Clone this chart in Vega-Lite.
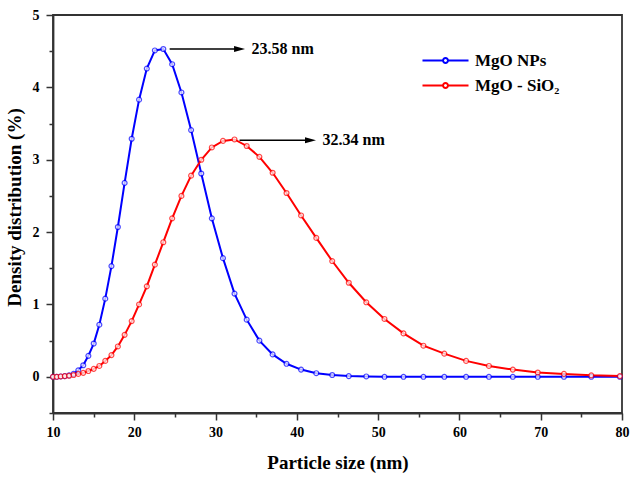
{
  "$schema": "https://vega.github.io/schema/vega-lite/v6.json",
  "width": 569,
  "height": 398,
  "autosize": {"type": "none"},
  "padding": {"left": 53, "top": 15, "right": 10, "bottom": 65},
  "background": "white",
  "config": {
    "view": {"stroke": "#333333", "strokeWidth": 1.8},
    "font": "Liberation Serif",
    "axis": {
      "grid": false,
      "domainColor": "#333333",
      "domainWidth": 1.8,
      "tickColor": "#333333",
      "tickWidth": 1.5,
      "labelFont": "Liberation Serif",
      "labelFontWeight": "bold",
      "labelFontSize": 14,
      "labelColor": "black",
      "labelOverlap": false,
      "labelFlush": false,
      "titleFont": "Liberation Serif",
      "titleFontWeight": "bold",
      "titleFontSize": 19,
      "titleColor": "black"
    }
  },
  "resolve": {"axis": {"x": "independent", "y": "independent"}},
  "datasets": {
    "dist": [
      {"size": 10.00, "series": "MgO NPs", "value": 0.00},
      {"size": 10.46, "series": "MgO NPs", "value": 0.00},
      {"size": 10.95, "series": "MgO NPs", "value": 0.005},
      {"size": 11.45, "series": "MgO NPs", "value": 0.01},
      {"size": 11.98, "series": "MgO NPs", "value": 0.02},
      {"size": 12.53, "series": "MgO NPs", "value": 0.04},
      {"size": 13.11, "series": "MgO NPs", "value": 0.09},
      {"size": 13.72, "series": "MgO NPs", "value": 0.16},
      {"size": 14.35, "series": "MgO NPs", "value": 0.29},
      {"size": 15.01, "series": "MgO NPs", "value": 0.46},
      {"size": 15.70, "series": "MgO NPs", "value": 0.72},
      {"size": 16.43, "series": "MgO NPs", "value": 1.08},
      {"size": 17.19, "series": "MgO NPs", "value": 1.53},
      {"size": 17.98, "series": "MgO NPs", "value": 2.07},
      {"size": 18.81, "series": "MgO NPs", "value": 2.68},
      {"size": 19.68, "series": "MgO NPs", "value": 3.29},
      {"size": 20.59, "series": "MgO NPs", "value": 3.83},
      {"size": 21.54, "series": "MgO NPs", "value": 4.26},
      {"size": 22.53, "series": "MgO NPs", "value": 4.51},
      {"size": 23.57, "series": "MgO NPs", "value": 4.53},
      {"size": 24.66, "series": "MgO NPs", "value": 4.32},
      {"size": 25.80, "series": "MgO NPs", "value": 3.93},
      {"size": 26.99, "series": "MgO NPs", "value": 3.41},
      {"size": 28.24, "series": "MgO NPs", "value": 2.81},
      {"size": 29.54, "series": "MgO NPs", "value": 2.19},
      {"size": 30.91, "series": "MgO NPs", "value": 1.64},
      {"size": 32.33, "series": "MgO NPs", "value": 1.15},
      {"size": 33.83, "series": "MgO NPs", "value": 0.79},
      {"size": 35.39, "series": "MgO NPs", "value": 0.50},
      {"size": 37.02, "series": "MgO NPs", "value": 0.31},
      {"size": 38.73, "series": "MgO NPs", "value": 0.18},
      {"size": 40.52, "series": "MgO NPs", "value": 0.10},
      {"size": 42.39, "series": "MgO NPs", "value": 0.05},
      {"size": 44.35, "series": "MgO NPs", "value": 0.025},
      {"size": 46.39, "series": "MgO NPs", "value": 0.01},
      {"size": 48.54, "series": "MgO NPs", "value": 0.005},
      {"size": 50.78, "series": "MgO NPs", "value": 0.00},
      {"size": 53.12, "series": "MgO NPs", "value": 0.00},
      {"size": 55.57, "series": "MgO NPs", "value": 0.00},
      {"size": 58.14, "series": "MgO NPs", "value": 0.00},
      {"size": 60.82, "series": "MgO NPs", "value": 0.00},
      {"size": 63.63, "series": "MgO NPs", "value": 0.00},
      {"size": 66.57, "series": "MgO NPs", "value": 0.00},
      {"size": 69.64, "series": "MgO NPs", "value": 0.00},
      {"size": 72.86, "series": "MgO NPs", "value": 0.00},
      {"size": 76.22, "series": "MgO NPs", "value": 0.00},
      {"size": 79.74, "series": "MgO NPs", "value": 0.00},
      {"size": 10.00, "series": "MgO - SiO₂", "value": 0.00},
      {"size": 10.46, "series": "MgO - SiO₂", "value": 0.00},
      {"size": 10.95, "series": "MgO - SiO₂", "value": 0.005},
      {"size": 11.45, "series": "MgO - SiO₂", "value": 0.01},
      {"size": 11.98, "series": "MgO - SiO₂", "value": 0.015},
      {"size": 12.53, "series": "MgO - SiO₂", "value": 0.025},
      {"size": 13.11, "series": "MgO - SiO₂", "value": 0.04},
      {"size": 13.72, "series": "MgO - SiO₂", "value": 0.055},
      {"size": 14.35, "series": "MgO - SiO₂", "value": 0.08},
      {"size": 15.01, "series": "MgO - SiO₂", "value": 0.11},
      {"size": 15.70, "series": "MgO - SiO₂", "value": 0.15},
      {"size": 16.43, "series": "MgO - SiO₂", "value": 0.22},
      {"size": 17.19, "series": "MgO - SiO₂", "value": 0.30},
      {"size": 17.98, "series": "MgO - SiO₂", "value": 0.42},
      {"size": 18.81, "series": "MgO - SiO₂", "value": 0.58},
      {"size": 19.68, "series": "MgO - SiO₂", "value": 0.77},
      {"size": 20.59, "series": "MgO - SiO₂", "value": 1.00},
      {"size": 21.54, "series": "MgO - SiO₂", "value": 1.25},
      {"size": 22.53, "series": "MgO - SiO₂", "value": 1.55},
      {"size": 23.57, "series": "MgO - SiO₂", "value": 1.86},
      {"size": 24.66, "series": "MgO - SiO₂", "value": 2.19},
      {"size": 25.80, "series": "MgO - SiO₂", "value": 2.50},
      {"size": 26.99, "series": "MgO - SiO₂", "value": 2.78},
      {"size": 28.24, "series": "MgO - SiO₂", "value": 3.00},
      {"size": 29.54, "series": "MgO - SiO₂", "value": 3.17},
      {"size": 30.91, "series": "MgO - SiO₂", "value": 3.26},
      {"size": 32.33, "series": "MgO - SiO₂", "value": 3.28},
      {"size": 33.83, "series": "MgO - SiO₂", "value": 3.19},
      {"size": 35.39, "series": "MgO - SiO₂", "value": 3.04},
      {"size": 37.02, "series": "MgO - SiO₂", "value": 2.82},
      {"size": 38.73, "series": "MgO - SiO₂", "value": 2.54},
      {"size": 40.52, "series": "MgO - SiO₂", "value": 2.23},
      {"size": 42.39, "series": "MgO - SiO₂", "value": 1.92},
      {"size": 44.35, "series": "MgO - SiO₂", "value": 1.60},
      {"size": 46.39, "series": "MgO - SiO₂", "value": 1.30},
      {"size": 48.54, "series": "MgO - SiO₂", "value": 1.03},
      {"size": 50.78, "series": "MgO - SiO₂", "value": 0.80},
      {"size": 53.12, "series": "MgO - SiO₂", "value": 0.60},
      {"size": 55.57, "series": "MgO - SiO₂", "value": 0.43},
      {"size": 58.14, "series": "MgO - SiO₂", "value": 0.32},
      {"size": 60.82, "series": "MgO - SiO₂", "value": 0.22},
      {"size": 63.63, "series": "MgO - SiO₂", "value": 0.15},
      {"size": 66.57, "series": "MgO - SiO₂", "value": 0.10},
      {"size": 69.64, "series": "MgO - SiO₂", "value": 0.06},
      {"size": 72.86, "series": "MgO - SiO₂", "value": 0.04},
      {"size": 76.22, "series": "MgO - SiO₂", "value": 0.02},
      {"size": 79.74, "series": "MgO - SiO₂", "value": 0.01}
    ],
    "peaks": [
      {"start": 24.35, "end": 32.95, "value": 4.53, "label": "23.58 nm"},
      {"start": 32.95, "end": 41.68, "value": 3.27, "label": "32.34 nm"}
    ]
  },
  "layer": [
    {
      "data": {"name": "dist"},
      "mark": {"type": "line", "strokeWidth": 2},
      "encoding": {
        "x": {
          "field": "size",
          "type": "quantitative",
          "scale": {"domain": [10, 80], "nice": false, "zero": false},
          "axis": {
            "orient": "bottom",
            "title": "Particle size (nm)",
            "values": [10, 20, 30, 40, 50, 60, 70, 80],
            "tickSize": 7,
            "labelPadding": 5,
            "titlePadding": 14
          }
        },
        "y": {
          "field": "value",
          "type": "quantitative",
          "scale": {"domain": [-0.5, 5], "nice": false, "zero": false},
          "axis": {
            "orient": "left",
            "title": "Density distribution (%)",
            "values": [0, 1, 2, 3, 4, 5],
            "tickSize": 7,
            "labelPadding": 7,
            "titlePadding": 8,
            "titleY": 192
          }
        },
        "color": {
          "field": "series",
          "type": "nominal",
          "scale": {"domain": ["MgO NPs", "MgO - SiO₂"], "range": ["#0000ff", "#ff0000"]},
          "legend": {
            "orient": "none",
            "legendX": 382,
            "legendY": 35,
            "title": null,
            "padding": 0,
            "symbolType": "M-2.5,0H-0.27M0.27,0H2.5M0.27,0A0.27,0.27,0,1,1,-0.27,0A0.27,0.27,0,1,1,0.27,0",
            "symbolSize": 339,
            "symbolStrokeWidth": 2,
            "symbolFillColor": "white",
            "labelFont": "Liberation Serif",
            "labelFontWeight": "bold",
            "labelFontSize": 17,
            "labelColor": "black",
            "labelOffset": 19,
            "rowPadding": 6
          }
        }
      }
    },
    {
      "data": {"name": "dist"},
      "mark": {"type": "point", "shape": "circle", "size": 24, "filled": true, "fill": "white", "strokeWidth": 1.2},
      "encoding": {
        "x": {
          "field": "size",
          "type": "quantitative",
          "axis": {
            "orient": "bottom",
            "title": null,
            "values": [15, 25, 35, 45, 55, 65, 75],
            "labels": false,
            "domain": false,
            "tickSize": 4
          }
        },
        "y": {
          "field": "value",
          "type": "quantitative",
          "axis": {
            "orient": "left",
            "title": null,
            "values": [-0.5, 0.5, 1.5, 2.5, 3.5, 4.5],
            "labels": false,
            "domain": false,
            "tickSize": 4
          }
        },
        "stroke": {
          "field": "series",
          "type": "nominal",
          "scale": {"domain": ["MgO NPs", "MgO - SiO₂"], "range": ["#0000ff", "#ff0000"]},
          "legend": null
        }
      }
    },
    {
      "data": {"name": "peaks"},
      "mark": {"type": "rule", "color": "black", "strokeWidth": 1.5},
      "encoding": {
        "x": {"field": "start", "type": "quantitative", "axis": null},
        "x2": {"field": "end"},
        "y": {"field": "value", "type": "quantitative", "axis": null}
      }
    },
    {
      "data": {"name": "peaks"},
      "mark": {"type": "point", "shape": "M-1,-0.55L1,0L-1,0.55Z", "size": 121, "filled": true, "color": "black", "opacity": 1},
      "encoding": {
        "x": {"field": "end", "type": "quantitative", "axis": null},
        "y": {"field": "value", "type": "quantitative", "axis": null}
      }
    },
    {
      "data": {"name": "peaks"},
      "mark": {"type": "text", "align": "left", "baseline": "middle", "dx": 12, "font": "Liberation Serif", "fontWeight": "bold", "fontSize": 16, "color": "black"},
      "encoding": {
        "x": {"field": "end", "type": "quantitative", "axis": null},
        "y": {"field": "value", "type": "quantitative", "axis": null},
        "text": {"field": "label"}
      }
    }
  ]
}
